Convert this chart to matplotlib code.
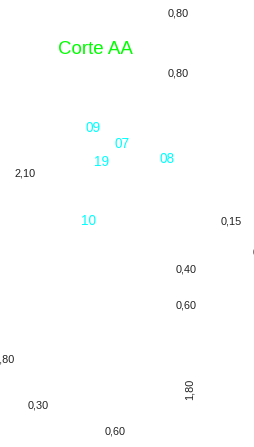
import matplotlib.pyplot as plt

# dimension labels (black)
dim_labels = ['0,80', '0,80', '2,10', '0,15', '0', '0,40', '0,60', '1,80', '1,80', '0,30', '0,60']
dim_x = [178, 178, 25, 231, 256, 186, 186, 4, 190, 38, 115]
dim_y = [14, 74, 173, 222, 253, 270, 305, 360, 389, 406, 431]
dim_rot = [0, 0, 0, 0, 0, 0, 0, 0, 90, 0, 0]

# room numbers (cyan)
room_labels = ['09', '07', '19', '08', '10']
room_x = [93, 122, 102, 167, 89]
room_y = [128, 144, 162, 159, 221]

title = 'Corte AA'

fig = plt.figure(figsize=(2.55, 4.47), dpi=100)
ax = fig.add_axes([0, 0, 1, 1])
ax.set_xlim(0, 255)
ax.set_ylim(447, 0)
ax.axis('off')

ax.text(95, 49, title, color='#00ff00', fontsize=13.5, family='Liberation Sans',
        ha='center', va='center')

for lab, x, y, r in zip(dim_labels, dim_x, dim_y, dim_rot):
    ax.text(x, y, lab, color='#222222', fontsize=7.8, family='Liberation Sans',
            ha='center', va='center', rotation=r)

for lab, x, y in zip(room_labels, room_x, room_y):
    ax.text(x, y, lab, color='#00ffff', fontsize=9.8, family='Liberation Sans',
            ha='center', va='center')

fig.savefig('out.png', dpi=100)
